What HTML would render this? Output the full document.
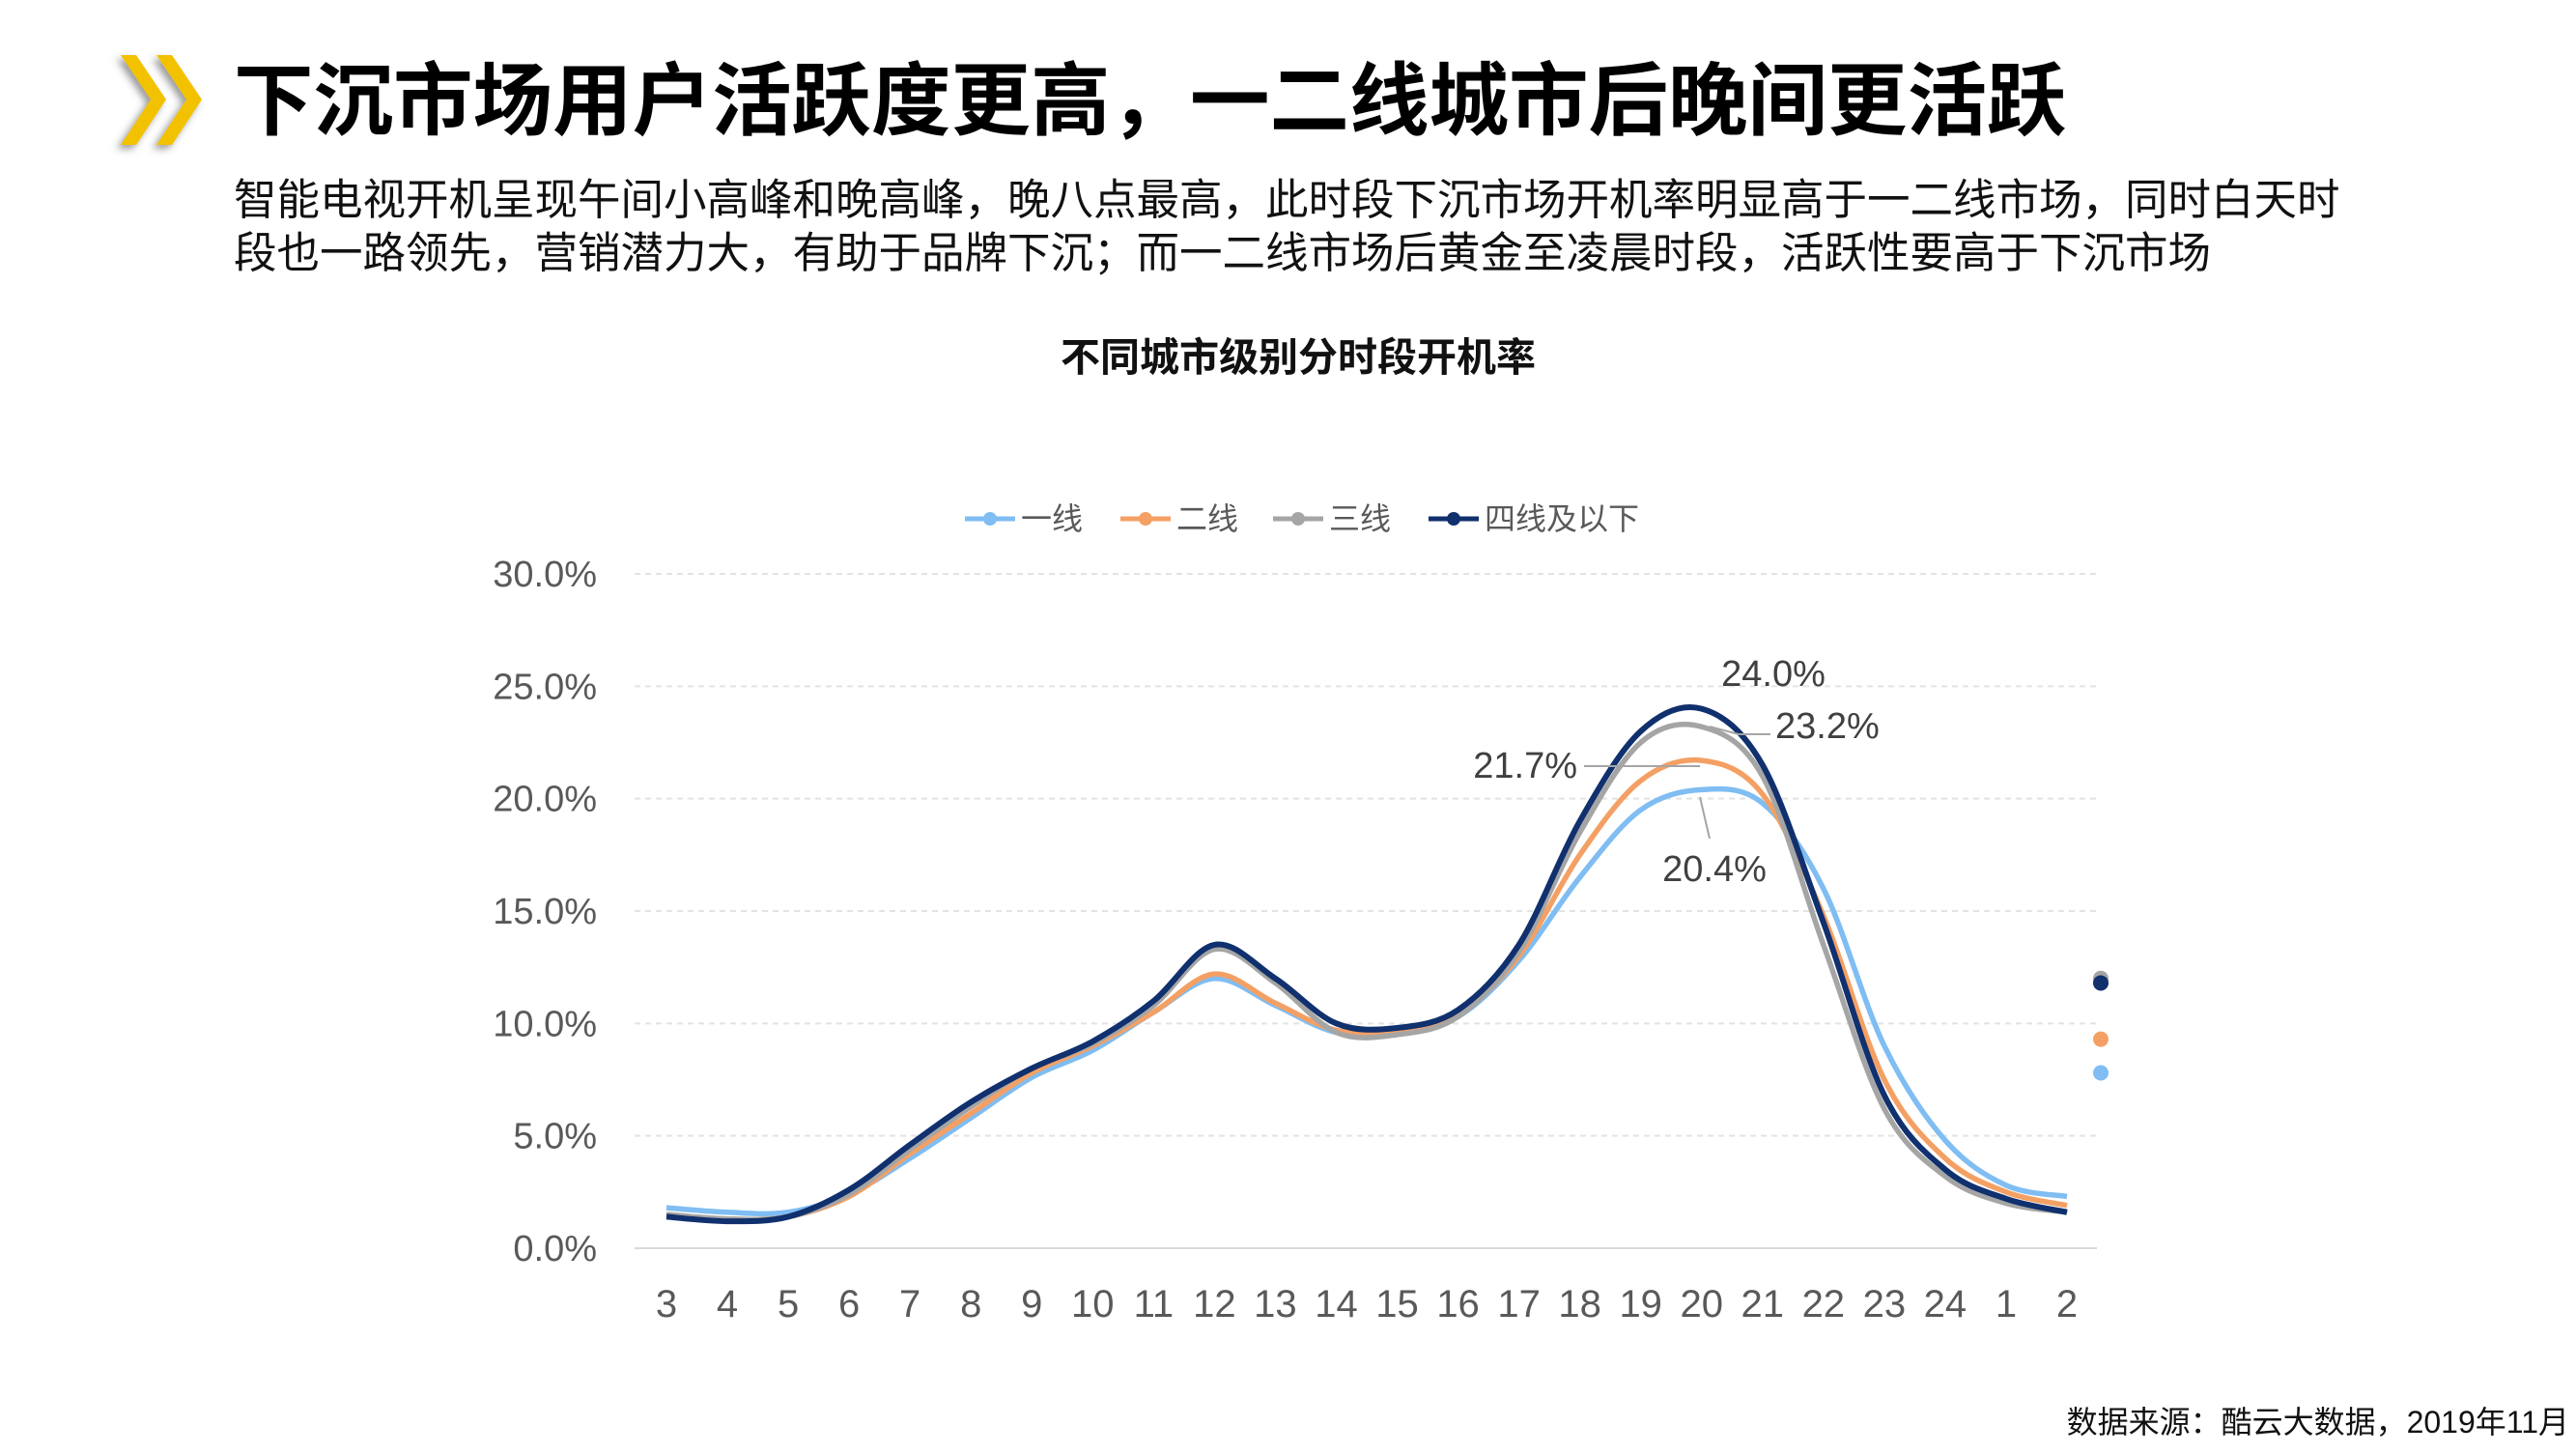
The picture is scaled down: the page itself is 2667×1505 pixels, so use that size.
<!DOCTYPE html>
<html><head><meta charset="utf-8"><style>
body{margin:0;background:#fff;width:2667px;height:1500px;overflow:hidden;font-family:"Liberation Sans","Noto Sans CJK SC",sans-serif}
</style></head><body>
<svg width="2667" height="1500" xmlns="http://www.w3.org/2000/svg">
<defs><filter id="sh" x="-30%" y="-30%" width="160%" height="160%"><feDropShadow dx="-4" dy="4" stdDeviation="4" flood-color="#555" flood-opacity="0.6"/></filter></defs>
<g filter="url(#sh)" fill="#f2c200">
<polygon points="125,57 141,57 172,103 141,150 125,150 156,103"/>
<polygon points="162,57 178,57 209,103 178,150 162,150 193,103"/>
</g>
<text x="242" y="133" font-size="82.5" font-weight="bold" fill="#000">下沉市场用户活跃度更高，一二线城市后晚间更活跃</text>
<text x="242" y="222" font-size="44.5" fill="#111">智能电视开机呈现午间小高峰和晚高峰，晚八点最高，此时段下沉市场开机率明显高于一二线市场，同时白天时</text>
<text x="242" y="277" font-size="44.5" fill="#111">段也一路领先，营销潜力大，有助于品牌下沉；而一二线市场后黄金至凌晨时段，活跃性要高于下沉市场</text>
<text x="1344" y="384" font-size="41" font-weight="bold" text-anchor="middle" fill="#111">不同城市级别分时段开机率</text>
<g id="legend"></g>
<g id="grid"></g><g id="series"></g><g id="labels"></g>
<text x="2660" y="1483" font-size="32" text-anchor="end" fill="#111">数据来源：酷云大数据，2019年11月</text>
</svg>
<script>
const categories=["3","4","5","6","7","8","9","10","11","12","13","14","15","16","17","18","19","20","21","22","23","24","1","2"];
const seriesNames=["一线","二线","三线","四线及以下"];
const tier1=[1.8,1.6,1.6,2.4,4.0,5.8,7.6,8.8,10.5,12.0,10.8,9.6,9.6,10.3,12.8,16.5,19.5,20.4,19.8,16.0,9.0,4.8,2.8,2.3];
const tier2=[1.5,1.3,1.4,2.3,4.2,6.0,7.8,9.0,10.5,12.2,10.9,9.7,9.7,10.4,13.0,17.5,20.8,21.7,20.2,14.8,7.5,4.0,2.5,1.9];
const tier3=[1.5,1.3,1.4,2.4,4.4,6.3,8.0,9.1,10.8,13.3,11.8,9.6,9.5,10.3,13.2,18.5,22.5,23.2,21.0,13.5,6.2,3.2,2.0,1.6];
const tier4=[1.4,1.2,1.4,2.6,4.6,6.5,8.0,9.2,11.0,13.5,12.0,10.0,9.8,10.6,13.5,19.0,23.0,24.0,21.5,14.5,6.8,3.5,2.2,1.6];
const yTicks=[0,5,10,15,20,25,30];
const yTickLabels=["0.0%","5.0%","10.0%","15.0%","20.0%","25.0%","30.0%"];
const colors=["#7fbdf2","#f4a064","#a5a5a5","#10306e"];
const NS="http://www.w3.org/2000/svg";
const x0=690,x1=2140,y0=1292,y1=594;
function xs(i){return x0+i*(x1-x0)/(categories.length-1);}
function ys(v){return y0-(v/30)*(y0-y1);}
function mk(t,a,p){const e=document.createElementNS(NS,t);for(const k in a)e.setAttribute(k,a[k]);p.appendChild(e);return e;}
const grid=document.getElementById('grid');
yTicks.forEach((t,i)=>{
 const l=mk('line',{x1:657,x2:2171,y1:ys(t),y2:ys(t),stroke:t===0?'#d9d9d9':'#e3e3e3','stroke-width':2,'stroke-dasharray':t===0?'':'6,5'},grid);
 
 
 const tx=mk('text',{x:618,y:ys(t)+13,'font-size':38,'text-anchor':'end',fill:'#595959'},grid);
 tx.textContent=yTickLabels[i];
 
 
});
categories.forEach((c,i)=>{
 const tx=mk('text',{x:xs(i),y:1363,'font-size':40,'text-anchor':'middle',fill:'#595959'},grid);
 tx.textContent=c;
 
 
});
function smooth(vals){
 const p=vals.map((v,i)=>[xs(i),ys(v)]);let d='M'+p[0][0]+','+p[0][1];
 for(let i=0;i<p.length-1;i++){const a=p[i-1]||p[i],b=p[i],c=p[i+1],e=p[i+2]||c;
  d+=' C'+(b[0]+(c[0]-a[0])/6)+','+(b[1]+(c[1]-a[1])/6)+' '+(c[0]-(e[0]-b[0])/6)+','+(c[1]-(e[1]-b[1])/6)+' '+c[0]+','+c[1];}
 return d;}
const ser=document.getElementById('series');
[tier1,tier2,tier3,tier4].forEach((s,k)=>{
 const p=mk('path',{d:smooth(s),fill:'none',stroke:colors[k],'stroke-width':k===3?6:5.5,'stroke-linejoin':'round'},ser);
 
 
});
const lg=document.getElementById('legend');
const lx=[999,1160,1318,1479];
seriesNames.forEach((n,k)=>{
 const g=mk('g',{},lg);
 
 
 mk('line',{x1:lx[k],x2:lx[k]+52,y1:537,y2:537,stroke:colors[k],'stroke-width':5},g);
 mk('circle',{cx:lx[k]+26,cy:537,r:7,fill:colors[k]},g);
 const t=mk('text',{x:lx[k]+58,y:548,'font-size':32,fill:'#595959'},g);t.textContent=n;
});
const lab=document.getElementById('labels');
const pk=17;
const peaks=[[tier4[pk],1836,710,'middle'],[tier3[pk],1838,764,'start'],[tier2[pk],1633,805,'end'],[tier1[pk],1775,912,'middle']];
peaks.forEach((p,k)=>{
 const t=mk('text',{x:p[1],y:p[2],'font-size':38,'text-anchor':p[3],fill:'#404040'},lab);
 t.textContent=p[0].toFixed(1)+'%';
 
 
});
mk('polyline',{points:'1770,752 1800,760 1833,760',fill:'none',stroke:'#a5a5a5','stroke-width':2},lab);
mk('polyline',{points:'1640,793 1760,793',fill:'none',stroke:'#a5a5a5','stroke-width':2},lab);
mk('polyline',{points:'1760,825 1770,868',fill:'none',stroke:'#a5a5a5','stroke-width':2},lab);
const strayVals=[7.8,9.3,12.0,11.8];
strayVals.forEach((v,k)=>{
 const c=mk('circle',{cx:2175,cy:ys(v),r:8,fill:colors[k]},lab);
 
 
});
</script>
</body></html>
